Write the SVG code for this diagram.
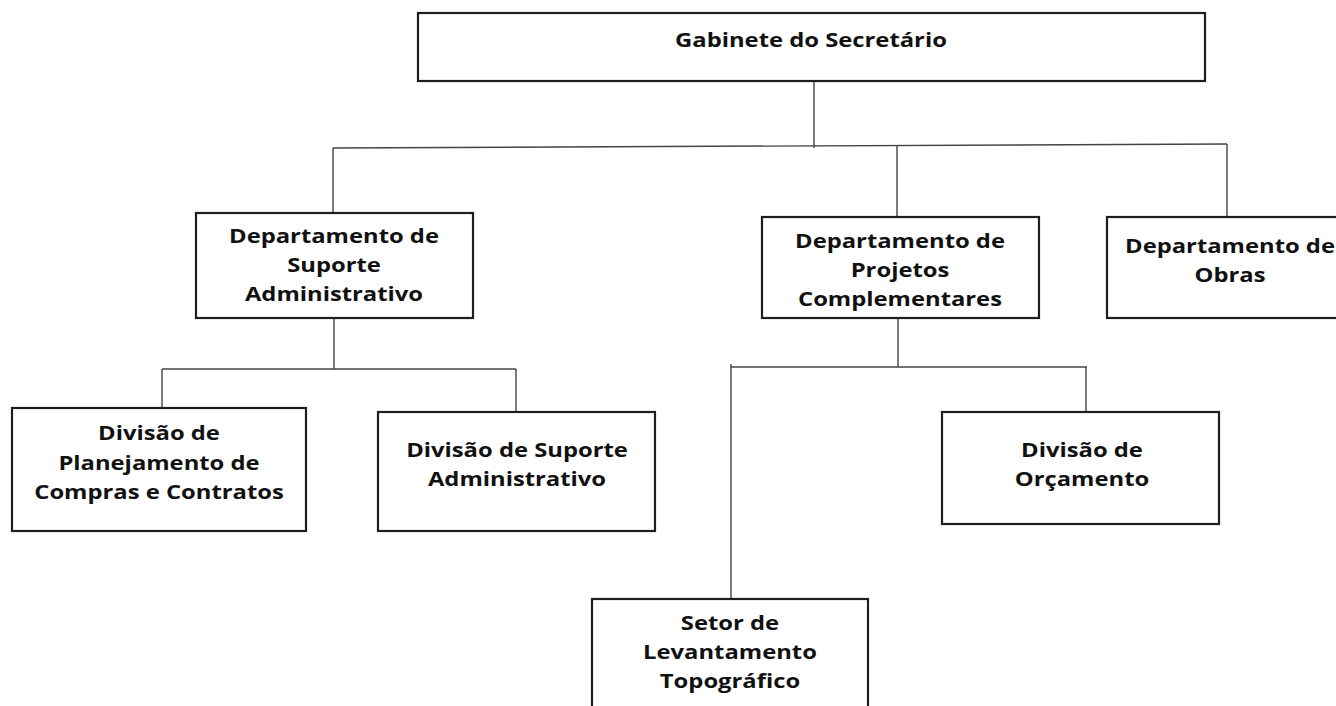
<svg xmlns="http://www.w3.org/2000/svg" width="1336" height="706" viewBox="0 0 1336 706">
<style>
.box{fill:#fff;stroke:#1e1e1e;stroke-width:2.2}
.con line{stroke:#444;stroke-width:1.4}
.lbl{font-family:"Open Sans","Noto Sans","DejaVu Sans",sans-serif;font-weight:700;font-size:20px;fill:#111;text-anchor:middle}
</style>
<rect width="1336" height="706" fill="#fff"/>
<g id="connectors" class="con">
<line x1="814" y1="81" x2="814" y2="148"/>
<line x1="333" y1="148" x2="1227" y2="144"/>
<line x1="333" y1="148" x2="333" y2="213"/>
<line x1="897" y1="146" x2="897" y2="217"/>
<line x1="1227" y1="144" x2="1227" y2="217"/>
<line x1="334" y1="318" x2="334" y2="369"/>
<line x1="162" y1="369" x2="516" y2="369"/>
<line x1="162" y1="369" x2="162" y2="408"/>
<line x1="516" y1="369" x2="516" y2="412"/>
<line x1="898" y1="318" x2="898" y2="367"/>
<line x1="731" y1="367" x2="1087" y2="367"/>
<line x1="731" y1="364" x2="731" y2="599"/>
<line x1="1086" y1="367" x2="1086" y2="412"/>
</g>
<g id="gabinete">
<rect class="box" x="418" y="13" width="787" height="68"/>
<g transform="translate(811 0) scale(1.19 1)"><text class="lbl" x="0" y="47">Gabinete do Secretário</text></g>
</g>
<g id="dep-suporte">
<rect class="box" x="196" y="213" width="277" height="105"/>
<g transform="translate(334 0) scale(1.19 1)">
<text class="lbl" x="0" y="243">Departamento de</text>
<text class="lbl" x="0" y="272">Suporte</text>
<text class="lbl" x="0" y="301">Administrativo</text>
</g>
</g>
<g id="dep-projetos">
<rect class="box" x="762" y="217" width="277" height="101"/>
<g transform="translate(900 0) scale(1.19 1)">
<text class="lbl" x="0" y="248">Departamento de</text>
<text class="lbl" x="0" y="277">Projetos</text>
<text class="lbl" x="0" y="306">Complementares</text>
</g>
</g>
<g id="dep-obras">
<rect class="box" x="1107" y="217" width="240" height="101"/>
<g transform="translate(1230 0) scale(1.19 1)">
<text class="lbl" x="0" y="253">Departamento de</text>
<text class="lbl" x="0" y="282.5">Obras</text>
</g>
</g>
<g id="div-planejamento">
<rect class="box" x="12" y="408" width="294" height="123"/>
<g transform="translate(159 0) scale(1.19 1)">
<text class="lbl" x="0" y="440">Divisão de</text>
<text class="lbl" x="0" y="470">Planejamento de</text>
<text class="lbl" x="0" y="499">Compras e Contratos</text>
</g>
</g>
<g id="div-suporte">
<rect class="box" x="378" y="412" width="277" height="119"/>
<g transform="translate(517 0) scale(1.19 1)">
<text class="lbl" x="0" y="457">Divisão de Suporte</text>
<text class="lbl" x="0" y="486">Administrativo</text>
</g>
</g>
<g id="div-orcamento">
<rect class="box" x="942" y="412" width="277" height="112"/>
<g transform="translate(1082 0) scale(1.19 1)">
<text class="lbl" x="0" y="457">Divisão de</text>
<text class="lbl" x="0" y="486">Orçamento</text>
</g>
</g>
<g id="setor-levantamento">
<rect class="box" x="592" y="599" width="276" height="115"/>
<g transform="translate(730 0) scale(1.19 1)">
<text class="lbl" x="0" y="630">Setor de</text>
<text class="lbl" x="0" y="659">Levantamento</text>
<text class="lbl" x="0" y="688">Topográfico</text>
</g>
</g>
</svg>
